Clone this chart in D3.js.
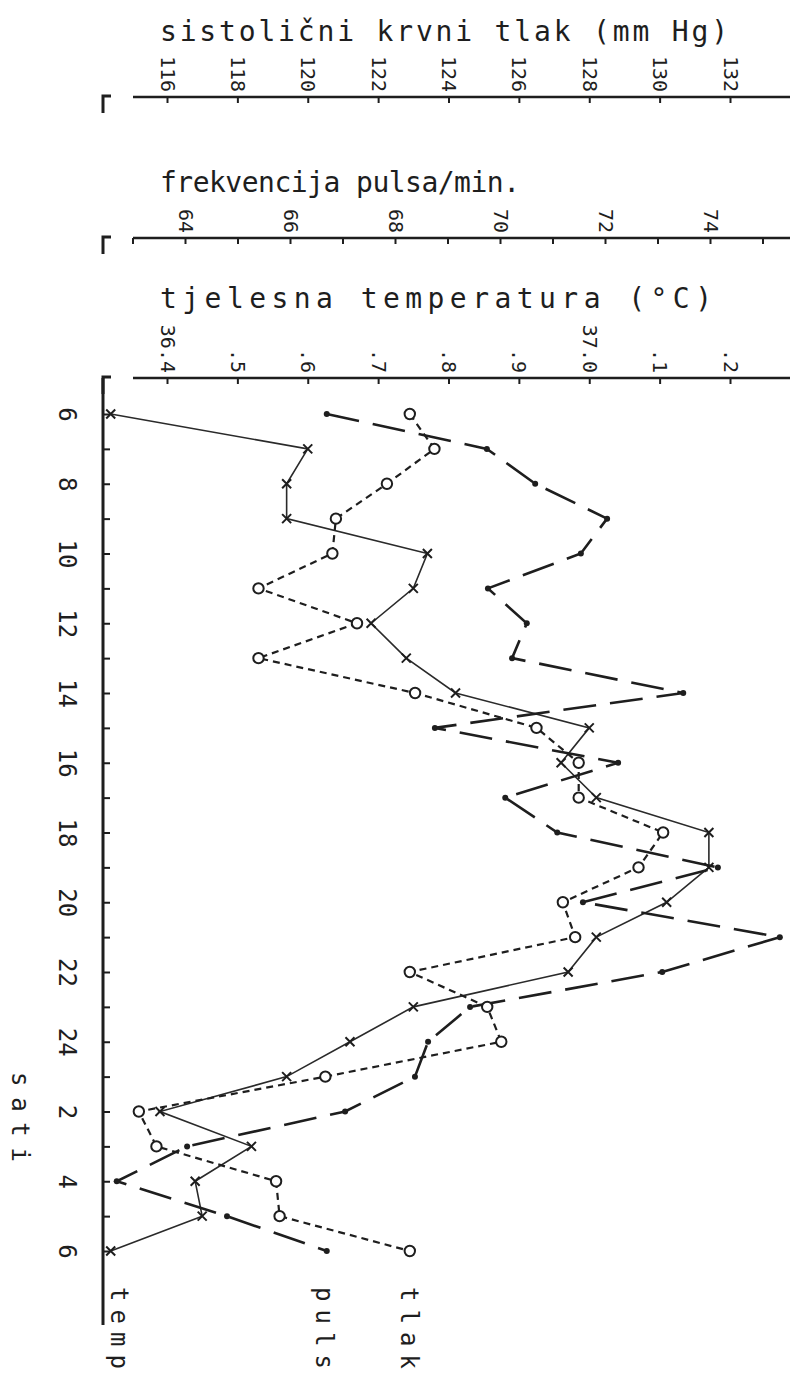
<!DOCTYPE html>
<html>
<head>
<meta charset="utf-8">
<script src="https://cdn.jsdelivr.net/npm/d3@7"></script>
<style>
  body { margin: 0; background: #fff; }
  svg { display: block; }
  text { font-family: "DejaVu Sans Mono", monospace; fill: #1e1e1e; }
</style>
</head>
<body>
<svg id="chart" width="795" height="1375"></svg>
<script>
// hourly readings from 6h to 6h next morning
const hourLabels = [6, 7, 8, 9, 10, 11, 12, 13, 14, 15, 16, 17, 18, 19, 20, 21, 22, 23, 24, 1, 2, 3, 4, 5, 6];

const tempValues = [36.32, 36.60, 36.57, 36.57, 36.77, 36.75, 36.69, 36.74, 36.81, 37.00, 36.96, 37.01, 37.17,
  37.17, 37.11, 37.01, 36.97, 36.75, 36.66, 36.57, 36.39, 36.52, 36.44, 36.45, 36.32];
const pulsValues = [66.7, 69.75, 70.67, 72.04, 71.54, 69.77, 70.51, 70.23, 73.49, 68.76, 72.25, 70.1, 71.09,
  74.15, 71.58, 75.33, 73.09, 69.43, 68.63, 68.38, 67.05, 64.04, 62.7, 64.8, 66.7];
const tlakValues = [122.9, 123.6, 122.25, 120.8, 120.7, 118.6, 121.4, 118.6, 123.05, 126.5, 127.7, 127.7, 130.1,
  129.4, 127.25, 127.6, 122.9, 125.1, 125.5, 120.5, 115.2, 115.7, 119.1, 119.2, 122.9];

const tlakTicks = [116, 118, 120, 122, 124, 126, 128, 130, 132];
const pulsTicks = [63, 64, 65, 66, 67, 68, 69, 70, 71, 72, 73, 74, 75];
const pulsLabels = [64, 66, 68, 70, 72, 74];
const tempTicks = [36.4, 36.5, 36.6, 36.7, 36.8, 36.9, 37.0, 37.1, 37.2];
const tempTickLabels = ["36.4", ".5", ".6", ".7", ".8", ".9", "37.0", ".1", ".2"];

const svg = d3.select("#chart");
const ink = "#1e1e1e";

const axisX = 103;
const yTime = d3.scaleLinear().domain([0, 24]).range([414, 1251]);
const xTlak = d3.scaleLinear().domain([116, 132]).range([167, 730]);
const xPuls = d3.scaleLinear().domain([64, 74]).range([185, 710]);
const xTemp = d3.scaleLinear().domain([36.4, 37.2]).range([167, 730]);

// ---- top value axes ----
function topAxis(scale, y, ticks, fmt, title, titleY, titleLen) {
  svg.append("text")
    .attr("x", 160).attr("y", titleY)
    .attr("font-size", 28)
    .attr("textLength", titleLen)
    .attr("lengthAdjust", "spacing")
    .text(title);

  const g = svg.append("g").attr("transform", `translate(0,${y})`);
  g.call(d3.axisBottom(scale).tickValues(ticks).tickSize(6).tickFormat(fmt));
  g.select(".domain").remove();
  g.selectAll(".tick line").attr("stroke", ink).attr("stroke-width", 2);
  g.selectAll(".tick text")
    .attr("fill", ink)
    .attr("font-size", 20)
    .attr("font-family", "DejaVu Sans Mono, monospace")
    .attr("text-anchor", "end")
    .attr("x", -5).attr("y", 0).attr("dy", "0.35em")
    .attr("transform", "rotate(90)");

  svg.append("line")
    .attr("x1", 133).attr("x2", 790).attr("y1", y).attr("y2", y)
    .attr("stroke", ink).attr("stroke-width", 2.5);
  // little corner bracket at the left
  svg.append("path")
    .attr("d", `M${axisX + 8},${y - 1}H${axisX}V${y + 16}`)
    .attr("fill", "none").attr("stroke", ink).attr("stroke-width", 3);
}

topAxis(xTlak, 97, tlakTicks, d => d, "sistolični krvni tlak (mm Hg)", 41, 568);
topAxis(xPuls, 238, pulsTicks, d => pulsLabels.includes(d) ? d : "", "frekvencija pulsa/min.", 192, 360);
topAxis(xTemp, 378, tempTicks, (d, i) => tempTickLabels[i], "tjelesna temperatura (°C)", 308, 552);

// ---- time axis (vertical, left) ----
svg.append("line")
  .attr("x1", axisX).attr("x2", axisX).attr("y1", 378).attr("y2", 1325)
  .attr("stroke", ink).attr("stroke-width", 3);

const tg = svg.append("g").attr("transform", `translate(${axisX},0)`);
tg.call(d3.axisLeft(yTime).tickValues(d3.range(hourLabels.length)).tickSize(-7)
  .tickFormat(i => i % 2 === 0 ? hourLabels[i] : ""));
tg.select(".domain").remove();
tg.selectAll(".tick line").attr("stroke", ink).attr("stroke-width", 2);
tg.selectAll(".tick text")
  .attr("fill", ink)
  .attr("font-size", 24)
  .attr("font-family", "DejaVu Sans Mono, monospace")
  .attr("text-anchor", "middle")
  .attr("x", 0).attr("y", 0).attr("dy", "0.35em")
  .attr("transform", "translate(-36,0) rotate(90)");

svg.append("text")
  .attr("transform", `translate(20,1072) rotate(90)`)
  .attr("font-size", 24)
  .attr("dy", "0.35em")
  .attr("textLength", 90).attr("lengthAdjust", "spacing")
  .text("sati");

// ---- series ----
const idx = d3.range(hourLabels.length);

const lineTemp = d3.line().x(i => xTemp(tempValues[i])).y(i => yTime(i));
const linePuls = d3.line().x(i => xPuls(pulsValues[i])).y(i => yTime(i));
const lineTlak = d3.line().x(i => xTlak(tlakValues[i])).y(i => yTime(i));

svg.append("path").attr("d", lineTemp(idx))
  .attr("fill", "none").attr("stroke", "#2a2a2a").attr("stroke-width", 1.6);
svg.append("path").attr("d", linePuls(idx))
  .attr("fill", "none").attr("stroke", ink).attr("stroke-width", 2.6)
  .attr("stroke-dasharray", "33,14");
svg.append("path").attr("d", lineTlak(idx))
  .attr("fill", "none").attr("stroke", ink).attr("stroke-width", 2.2)
  .attr("stroke-dasharray", "7,5");

svg.append("g").selectAll("path").data(idx).join("path")
  .attr("transform", i => `translate(${xTemp(tempValues[i])},${yTime(i)})`)
  .attr("d", "M-4.5,-4.5L4.5,4.5M-4.5,4.5L4.5,-4.5")
  .attr("stroke", ink).attr("stroke-width", 2);

svg.append("g").selectAll("circle").data(idx).join("circle")
  .attr("cx", i => xPuls(pulsValues[i])).attr("cy", i => yTime(i))
  .attr("r", 3).attr("fill", ink);

svg.append("g").selectAll("circle").data(idx).join("circle")
  .attr("cx", i => xTlak(tlakValues[i])).attr("cy", i => yTime(i))
  .attr("r", 5.2).attr("fill", "#fff").attr("stroke", ink).attr("stroke-width", 2);

// ---- series names at the end of each curve ----
const endLabels = [
  { name: "temp", value: () => xTemp(tempValues[24]) + 9 },
  { name: "puls", value: () => xPuls(pulsValues[24]) - 2 },
  { name: "tlak", value: () => xTlak(tlakValues[24]) }
];
svg.append("g").selectAll("text").data(endLabels).join("text")
  .attr("transform", d => `translate(${d.value()},1287) rotate(90)`)
  .attr("font-size", 24)
  .attr("dy", "0.35em")
  .attr("textLength", 82).attr("lengthAdjust", "spacing")
  .text(d => d.name);
</script>
</body>
</html>
